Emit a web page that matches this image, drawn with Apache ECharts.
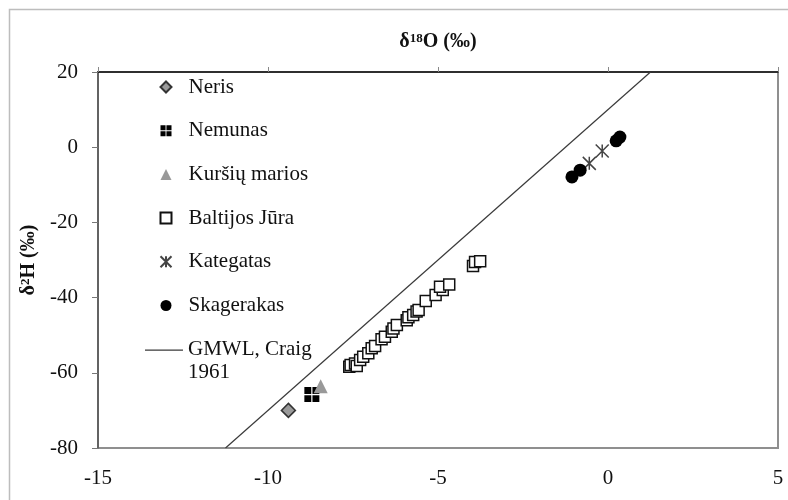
<!DOCTYPE html>
<html>
<head>
<meta charset="utf-8">
<script src="https://cdn.jsdelivr.net/npm/echarts@6/dist/echarts.min.js"></script>
<style>
  html, body { margin: 0; padding: 0; background: #fff; }
  #chart { width: 788px; height: 500px; }
</style>
</head>
<body>
<div id="chart"></div>
<script>
// δ18O (x) / δ2H (y) sample values, ‰
const neris = [[-9.4, -70.0]];
const nemunas = [[-8.71, -65.8]];
const kursiuMarios = [[-8.45, -63.6]];
const baltijosJura = [
  [-7.61, -58.4], [-7.57, -57.9], [-7.44, -57.5], [-7.39, -58.2], [-7.29, -56.6],
  [-7.20, -55.7], [-7.05, -54.8], [-6.95, -53.5], [-6.85, -52.9], [-6.66, -51.1],
  [-6.56, -50.4], [-6.36, -49.1], [-6.31, -48.2], [-6.21, -47.3], [-5.92, -46.0],
  [-5.87, -45.2], [-5.73, -44.6], [-5.63, -43.7], [-5.57, -43.3], [-5.36, -40.9],
  [-5.07, -39.3], [-4.86, -38.0], [-4.94, -37.1], [-4.67, -36.5], [-3.97, -31.6],
  [-3.91, -30.5], [-3.76, -30.3]
];
const kategatas = [[-0.55, -4.3], [-0.17, -1.0]];
const skagerakas = [[-1.06, -7.9], [-0.82, -6.1], [0.24, 1.7], [0.35, 2.7]];
// Global Meteoric Water Line end points
const gmwl = [[-11.25, -80], [1.25, 20]];

// axis ranges and tick steps
const xRange = { min: -15, max: 5, step: 5 };
const yRange = { min: -80, max: 20, step: 20 };

const seriesNames = ['Neris', 'Nemunas', 'Kuršių marios', 'Baltijos Jūra', 'Kategatas', 'Skagerakas'];
const lineName = 'GMWL, Craig 1961';
const lineLabel = ['GMWL, Craig', '1961'];

const FONT = 'Liberation Serif';
const quadSquare = 'path://M0,0h4.6v4.6h-4.6z M5.4,0h4.6v4.6h-4.6z M0,5.4h4.6v4.6h-4.6z M5.4,5.4h4.6v4.6h-4.6z';
const asterisk = 'path://M0,0L10,10M10,0L0,10M5,0L5,10';
// thin bar at the top of a taller box, so the legend text's first line sits level with it
const lineIcon = 'path://M0,0h38v1.2h-38z M0,23h0.01v0.01h-0.01z';

const chart = echarts.init(document.getElementById('chart'), null, { renderer: 'canvas' });

const nameRich = {
  a: { fontFamily: FONT, fontSize: 20, fontWeight: 'bold', color: '#111' },
  s: { fontFamily: FONT, fontSize: 13, fontWeight: 'bold', color: '#111', verticalAlign: 'top', padding: [0, 0, 7, 0] }
};
const legendText = { fontFamily: FONT, fontSize: 21, color: '#111' };

chart.setOption({
  animation: false,
  backgroundColor: '#fff',
  graphic: [{
    type: 'rect',
    shape: { x: 9.5, y: 9.5, width: 800, height: 520 },
    style: { fill: 'none', stroke: '#bdbdbd', lineWidth: 1.5 },
    silent: true, z: -1
  }],
  grid: {
    left: 98, right: 10, top: 72, bottom: 52,
    show: true, borderColor: '#8f8f8f', borderWidth: 2, backgroundColor: 'transparent'
  },
  legend: [{
    data: seriesNames,
    orient: 'vertical',
    left: 158, top: 76, padding: 0,
    itemWidth: 11, itemHeight: 11, itemGap: 21.7,
    selectedMode: false,
    formatter: name => '{sp|}{t|' + name + '}',
    textStyle: {
      ...legendText, lineHeight: 22,
      rich: { sp: { width: 12 }, t: { ...legendText, lineHeight: 22 } }
    }
  }, {
    data: [{ name: lineName, icon: lineIcon }],
    orient: 'vertical',
    left: 145, top: 338, padding: 0,
    itemWidth: 38, itemHeight: 23,
    selectedMode: false,
    formatter: () => lineLabel.join('\n'),
    textStyle: { ...legendText, lineHeight: 23 }
  }],
  xAxis: [{
    type: 'value', position: 'bottom',
    min: xRange.min, max: xRange.max, interval: xRange.step,
    axisLine: { show: false, onZero: false }, axisTick: { show: false }, splitLine: { show: false },
    axisLabel: { fontFamily: FONT, fontSize: 21, color: '#111', margin: 20 }
  }, {
    type: 'value', position: 'top',
    min: xRange.min, max: xRange.max, interval: xRange.step,
    axisLine: { show: true, onZero: false, lineStyle: { color: '#111', width: 1.5 } },
    axisTick: { show: true, inside: false, length: 5, lineStyle: { color: '#888', width: 1 } },
    axisLabel: { show: false }, splitLine: { show: false },
    name: '{a|δ}{s|18}{a|O (‰)}', nameLocation: 'middle', nameGap: 20,
    nameTextStyle: { rich: nameRich }
  }],
  yAxis: [{
    type: 'value',
    min: yRange.min, max: yRange.max, interval: yRange.step,
    axisLine: { show: true, onZero: false, lineStyle: { color: '#555', width: 1.5 } },
    axisTick: { show: true, inside: false, length: 6, lineStyle: { color: '#777', width: 1 } },
    splitLine: { show: false },
    axisLabel: { fontFamily: FONT, fontSize: 21, color: '#111', margin: 20 },
    name: '{a|δ}{s|2}{a|H (‰)}', nameLocation: 'middle', nameGap: 48, nameRotate: 90,
    nameTextStyle: { rich: nameRich }
  }],
  series: [{
    name: lineName, type: 'line', data: gmwl, symbol: 'none',
    lineStyle: { color: '#3a3a3a', width: 1.2 }, itemStyle: { color: '#3a3a3a' }, z: 1
  }, {
    name: 'Neris', type: 'scatter', data: neris, symbol: 'diamond', symbolSize: 14,
    itemStyle: { color: '#9a9a9a', borderColor: '#333', borderWidth: 1.5, opacity: 1 }, z: 3
  }, {
    name: 'Nemunas', type: 'scatter', data: nemunas, symbol: quadSquare, symbolSize: 15,
    itemStyle: { color: '#000', opacity: 1 }, z: 3
  }, {
    name: 'Kuršių marios', type: 'scatter', data: kursiuMarios, symbol: 'triangle', symbolSize: 14,
    itemStyle: { color: '#999', opacity: 1 }, z: 3
  }, {
    name: 'Baltijos Jūra', type: 'scatter', data: baltijosJura, symbol: 'rect', symbolSize: 11,
    itemStyle: { color: '#fff', borderColor: '#111', borderWidth: 1.5, opacity: 1 }, z: 3
  }, {
    name: 'Kategatas', type: 'scatter', data: kategatas, symbol: asterisk, symbolSize: 13,
    itemStyle: { color: 'none', borderColor: '#444', borderWidth: 1.5, opacity: 1 }, z: 3
  }, {
    name: 'Skagerakas', type: 'scatter', data: skagerakas, symbol: 'circle', symbolSize: 13,
    itemStyle: { color: '#000', opacity: 1 }, z: 3
  }]
});
</script>
</body>
</html>
